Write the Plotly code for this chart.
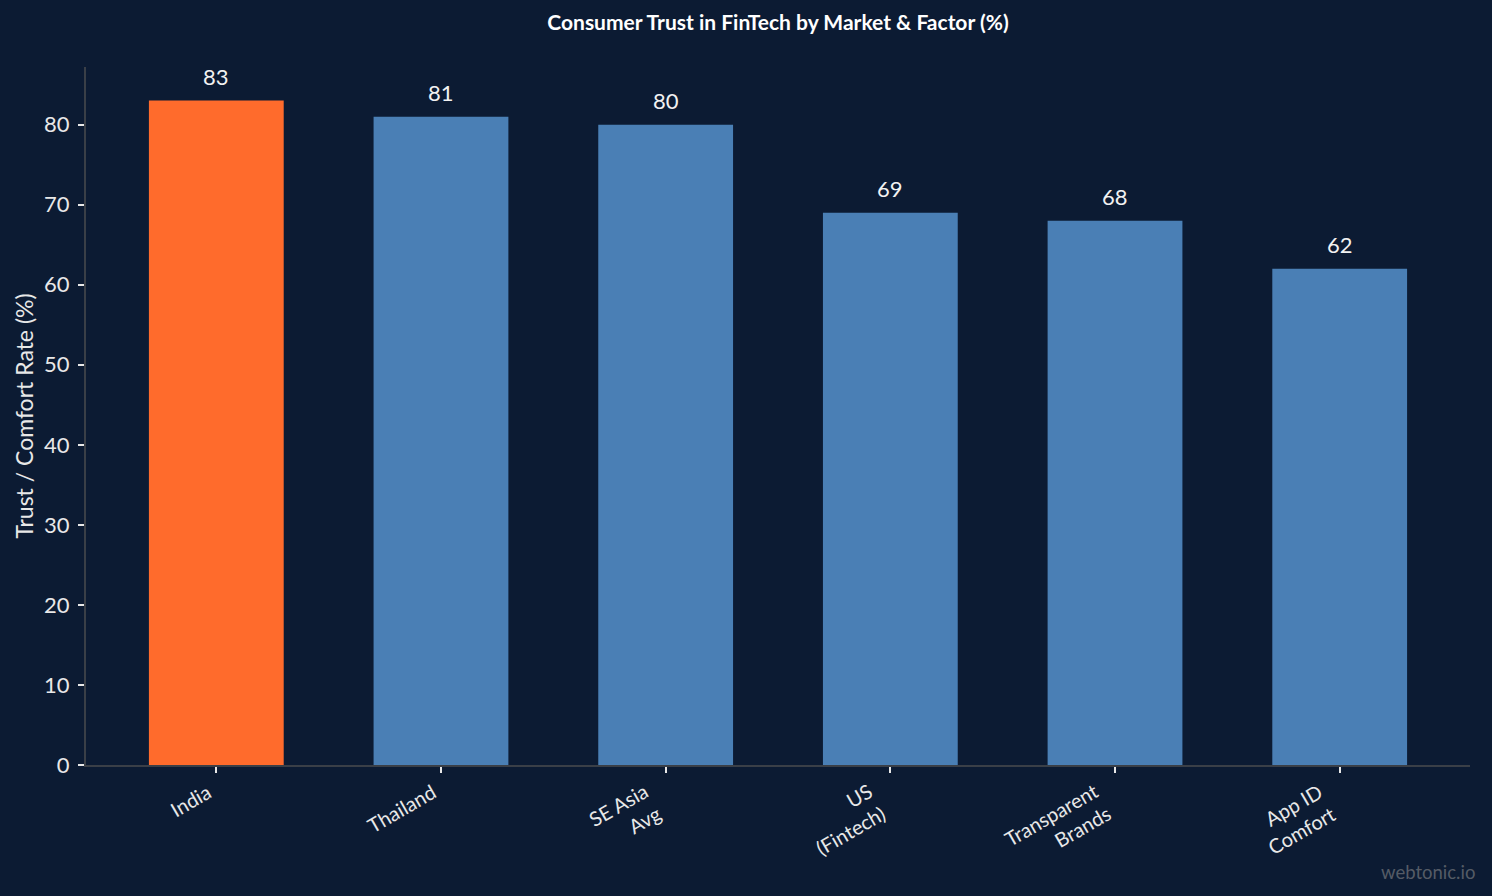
import plotly.graph_objects as go

categories = ["India", "Thailand", "SE Asia<br>Avg", "US<br>(Fintech)", "Transparent<br>Brands", "App ID<br>Comfort"]
values = [83, 81, 80, 69, 68, 62]
bar_colors = ["#FF6B2C", "#4A7FB5", "#4A7FB5", "#4A7FB5", "#4A7FB5", "#4A7FB5"]
y_ticks = [0, 10, 20, 30, 40, 50, 60, 70, 80]

BG = "#0C1B33"
FONT = "Lato, 'Open Sans', sans-serif"

fig = go.Figure()
fig.add_trace(go.Bar(
    x=list(range(len(categories))),
    y=values,
    marker=dict(color=bar_colors, line=dict(width=0)),
    width=0.6,
    hoverinfo="skip",
))

for i, v in enumerate(values):
    fig.add_annotation(x=i, y=v, text=str(v), showarrow=False,
                       yanchor="bottom", yshift=9,
                       font=dict(family=FONT, size=22, color="#F2F2F2"))

# rotated category labels, anchored like right-aligned rotated text
for i, c in enumerate(categories):
    fig.add_annotation(x=i, y=0, text=c, showarrow=False, textangle=-30,
                       xanchor="right", yanchor="top", align="right",
                       xshift=2, yshift=-11,
                       font=dict(family=FONT, size=20, color="#E8E8E8"))

fig.add_annotation(text="webtonic.io", xref="paper", yref="paper",
                   x=1.0, y=0, xanchor="right", yanchor="top", yshift=-94, xshift=7,
                   showarrow=False, font=dict(family=FONT, size=18.5, color="#555B66"))

fig.update_layout(
    width=1492, height=896,
    paper_bgcolor=BG, plot_bgcolor=BG,
    margin=dict(l=86, r=22, t=67, b=131),
    showlegend=False,
    title=dict(text="<b>Consumer Trust in FinTech by Market & Factor (%)</b>",
               x=0.5, xref="paper", xanchor="center", y=1 - 23 / 896, yanchor="middle",
               font=dict(family=FONT, size=21, color="#FFFFFF")),
    font=dict(family=FONT, color="#E8E8E8"),
)
fig.update_xaxes(
    tickmode="array", tickvals=list(range(len(categories))), showticklabels=False,
    range=[-0.58, 5.58],
    showline=True, linecolor="#3A3F47", linewidth=2,
    ticks="outside", ticklen=6, tickcolor="#E8E8E8", tickwidth=1.5,
    showgrid=False, zeroline=False,
)
fig.update_yaxes(
    tickmode="array", tickvals=y_ticks, range=[0, 87.2],
    showline=True, linecolor="#3A3F47", linewidth=2,
    ticks="outside", ticklen=6, tickcolor="#E8E8E8", tickwidth=1.5,
    showgrid=False, zeroline=False, ticklabelstandoff=4,
    tickfont=dict(family=FONT, size=22, color="#E8E8E8"),
    title=dict(text="Trust / Comfort Rate (%)", standoff=4,
               font=dict(family=FONT, size=23, color="#E8E8E8")),
)

fig.write_html("out.html")
